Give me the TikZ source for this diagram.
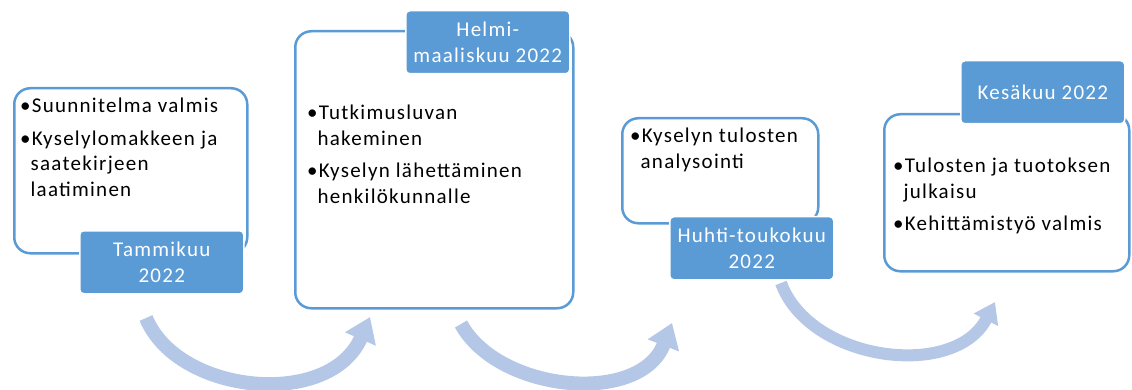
\documentclass[tikz,border=0pt]{standalone}
\usepackage{fontspec}
\setmainfont{Carlito}[LetterSpace=6]
\usetikzlibrary{arrows.meta}
\usetikzlibrary{positioning}
\definecolor{boxblue}{HTML}{5B9BD5}
\definecolor{arrowblue}{HTML}{B4C7E7}

\begin{document}
\begin{tikzpicture}[
    x=1pt, y=-1pt,
    font=\fontsize{21}{25.5}\selectfont,
    phasebox/.style={draw=boxblue, line width=2.5pt, rounded corners=16pt,
            fill=white, anchor=north west, inner sep=0pt},
    datebox/.style={fill=boxblue, draw=white, line width=1.5pt, rounded corners=4pt,
            text=white, align=center, minimum width=164pt, minimum height=63pt, inner sep=0pt},
    tasklist/.style={align=left, anchor=north west, inner sep=0pt},
    flowarrow/.style={-{Triangle[length=24pt, width=32pt]}, line width=14pt, draw=arrowblue},
  ]
  \useasboundingbox (0,0) rectangle (1132,390);

  % curved arrows behind the boxes
  \coordinate (arc1 start) at (146,318);
  \coordinate (arc1 end) at (370,317);
  \coordinate (arc2 start) at (461,324);
  \coordinate (arc2 end) at (672,323);
  \coordinate (arc3 start) at (781,283);
  \coordinate (arc3 end) at (995,302);
  \draw[flowarrow] (arc1 start) .. controls (178,395) and (330,409) .. (arc1 end);
  \draw[flowarrow] (arc2 start) .. controls (498,392) and (640,406) .. (arc2 end);
  \draw[flowarrow, line width=12pt, -{Triangle[length=20pt, width=26pt]}]
    (arc3 start) .. controls (810,362) and (955,380) .. (arc3 end);

  % phases
  \node[phasebox, minimum width=233pt, minimum height=165pt] (phase1) at (13,87) {};
  \node[phasebox, minimum width=278pt, minimum height=277pt] (phase2) at (294,30) {};
  \node[phasebox, minimum width=196pt, minimum height=105pt] (phase3) at (621,117) {};
  \node[phasebox, minimum width=245pt, minimum height=157pt] (phase4) at (883,113) {};

  \node[tasklist] (tasks1) at ([shift={(7,7.5)}]phase1.north west)
    {\strut•Suunnitelma valmis\\[7pt]•Kyselylomakkeen ja\\\hphantom{•}saatekirjeen\\\hphantom{•}laatiminen};
  \node[tasklist] (tasks2) at ([shift={(13,71.5)}]phase2.north west)
    {\strut•Tutkimusluvan\\\hphantom{•}hakeminen\\[7pt]•Kyselyn lähettäminen\\\hphantom{•}henkilökunnalle};
  \node[tasklist] (tasks3) at ([shift={(9,7.5)}]phase3.north west)
    {\strut•Kyselyn tulosten\\\hphantom{•}analysointi};
  \node[tasklist] (tasks4) at ([shift={(10,41.5)}]phase4.north west)
    {\strut•Tulosten ja tuotoksen\\\hphantom{•}julkaisu\\[7pt]•Kehittämistyö valmis};

  % dates
  \node[datebox, anchor=south east] (date1) at ([shift={(-4,40)}]phase1.south east) {Tammikuu\\2022};
  \node[datebox, anchor=north east] (date2) at ([shift={(-4,-20)}]phase2.north east) {Helmi-\\maaliskuu 2022};
  \node[datebox, anchor=south east] (date3) at ([shift={(15,56)}]phase3.south east) {Huhti-toukokuu\\2022};
  \node[datebox, anchor=north east] (date4) at ([shift={(-5,-53)}]phase4.north east) {Kesäkuu 2022};
\end{tikzpicture}
\end{document}
